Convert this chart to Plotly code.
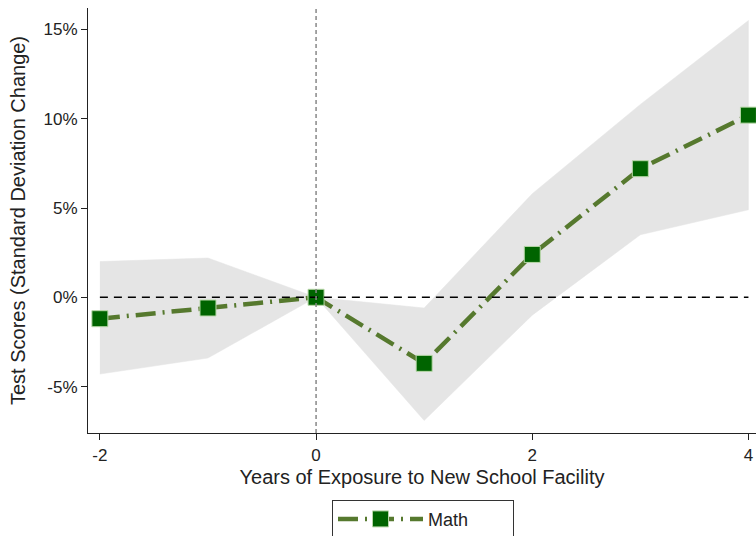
import plotly.graph_objects as go

years = [-2, -1, 0, 1, 2, 3, 4]
math_est = [-1.2, -0.6, 0.0, -3.7, 2.4, 7.2, 10.2]
ci_upper = [2.0, 2.2, 0.0, -0.6, 5.8, 10.8, 15.5]
ci_lower = [-4.3, -3.4, 0.0, -6.9, -1.0, 3.5, 4.9]
y_ticks = [-5, 0, 5, 10, 15]
y_labels = ["-5%", "0%", "5%", "10%", "15%"]
x_ticks = [-2, 0, 2, 4]
x_labels = ["-2", "0", "2", "4"]

FONT = "Liberation Sans, Arial, Helvetica, sans-serif"

fig = go.Figure()

fig.add_trace(go.Scatter(
    x=years + years[::-1], y=ci_upper + ci_lower[::-1],
    fill="toself", fillcolor="#e5e5e5", line=dict(color="#e5e5e5", width=0.5),
    mode="lines", showlegend=False, hoverinfo="skip"))

fig.add_shape(type="line", xref="x", yref="y", x0=years[0], x1=years[-1], y0=0, y1=0,
              line=dict(color="black", width=1.5, dash="8px,6px"))
fig.add_shape(type="line", xref="x", yref="paper", x0=0, x1=0, y0=0, y1=1,
              line=dict(color="#888888", width=1.5, dash="4px,3px"))

fig.add_trace(go.Scatter(
    x=years, y=math_est, mode="lines+markers", name="Math",
    line=dict(color="#56792e", width=4.5, dash="20px,7px,2px,7px"),
    marker=dict(symbol="square", size=16, color="#006400",
                line=dict(color="#b8d8a8", width=1))))

fig.update_layout(
    width=756, height=536,
    margin=dict(l=88, r=0, t=8, b=103, autoexpand=False),
    plot_bgcolor="white", paper_bgcolor="white",
    font=dict(family=FONT, size=16.5, color="#222222"),
    showlegend=True,
    legend=dict(orientation="h", x=0.5015, xanchor="center", y=-0.157, yanchor="top",
                bordercolor="#333333", borderwidth=1, entrywidth=80, itemwidth=85,
                font=dict(size=18), bgcolor="white"),
    xaxis=dict(range=[-2.11, 4.07], tickvals=x_ticks, ticktext=x_labels, ticks="outside",
               ticklen=6, automargin=False, ticklabeloverflow="allow",
               showline=True, linecolor="#222222", linewidth=1.2, showgrid=False,
               zeroline=False, tickcolor="#222222", tickfont=dict(size=17),
               title=dict(text="Years of Exposure to New School Facility", standoff=6)),
    yaxis=dict(range=[-7.6, 16.2], tickvals=y_ticks, ticktext=y_labels, ticks="outside",
               ticklen=6, automargin=False, showline=True, linecolor="#222222", linewidth=1.2,
               showgrid=False, zeroline=False, tickcolor="#222222", tickfont=dict(size=17),
               title=dict(text="Test Scores (Standard Deviation Change)", standoff=12)),
)

fig.write_html(
    "out.html",
    config={"displayModeBar": False},
    post_script="document.body.style.margin='0';document.body.style.overflow='hidden';",
)
